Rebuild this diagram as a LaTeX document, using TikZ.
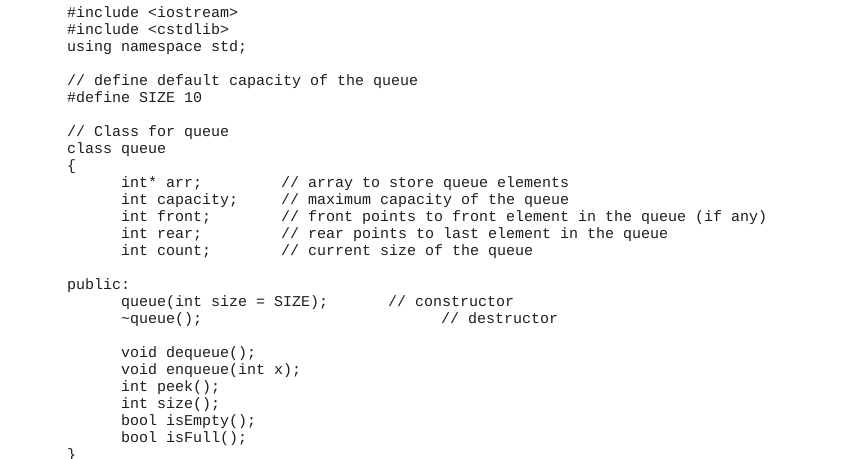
\documentclass[tikz,border=0pt]{standalone}
\usepackage{fontspec}
\setmonofont{Liberation Mono}
\begin{document}
\begin{tikzpicture}[x=1bp,y=-1bp,
  code/.style={anchor=west,inner sep=0pt,text height=10.5bp,text depth=3bp,font=\ttfamily\fontsize{15bp}{17bp}\selectfont,text={rgb,255:red,30;green,30;blue,30}}]
\useasboundingbox[fill=white] (0,0) rectangle (848,459);
\node[code] (a1) at (67,14) {\#include <iostream>};
\node[code] (a2) at (67,31) {\#include <cstdlib>};
\node[code] (a3) at (67,48) {using namespace std;};
\node[code] (a4) at (67,82) {// define default capacity of the queue};
\node[code] (a5) at (67,99) {\#define SIZE 10};
\node[code] (a6) at (67,133) {// Class for queue};
\node[code] (a7) at (67,150) {class queue};
\node[code] (a8) at (67,167) {\{};
\node[code] (b1) at (121,184) {int* arr;};
\node[code] (b2) at (121,201) {int capacity;};
\node[code] (b3) at (121,218) {int front;};
\node[code] (b4) at (121,235) {int rear;};
\node[code] (b5) at (121,252) {int count;};
\node[code] (c1) at (281,184) {// array to store queue elements};
\node[code] (c2) at (281,201) {// maximum capacity of the queue};
\node[code] (c3) at (281,218) {// front points to front element in the queue (if any)};
\node[code] (c4) at (281,235) {// rear points to last element in the queue};
\node[code] (c5) at (281,252) {// current size of the queue};
\node[code] (d1) at (67,286) {public:};
\node[code] (d2) at (121,303) {queue(int size = SIZE);};
\node[code] (d3) at (388,303) {// constructor};
\node[code] (d4) at (121,320) {\textasciitilde queue();};
\node[code] (d5) at (441,320) {// destructor};
\node[code] (e1) at (121,354) {void dequeue();};
\node[code] (e2) at (121,371) {void enqueue(int x);};
\node[code] (e3) at (121,388) {int peek();};
\node[code] (e4) at (121,405) {int size();};
\node[code] (e5) at (121,422) {bool isEmpty();};
\node[code] (e6) at (121,439) {bool isFull();};
\node[code] (e7) at (67,456) {\}};
\end{tikzpicture}
\end{document}
